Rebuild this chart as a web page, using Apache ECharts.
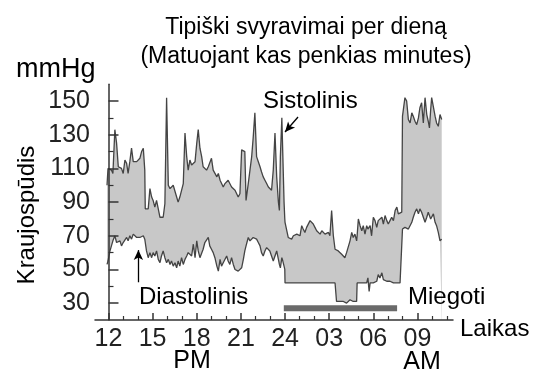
<!DOCTYPE html>
<html>
<head>
<meta charset="utf-8">
<script src="https://cdn.jsdelivr.net/npm/echarts@6/dist/echarts.min.js"></script>
<style>
  html, body { margin: 0; padding: 0; background: #fff; }
  #chart { width: 542px; height: 374px; }
</style>
</head>
<body>
<div id="chart"></div>
<script>
// time of each reading, minutes after 12:00 (noon)
const minutes = [
  -6, -2, 6, 12, 18, 26, 33, 40, 47, 53, 60, 67, 74, 80, 87, 94, 101, 108, 115, 121,
  128, 135, 142, 148, 150, 155, 162, 169, 176, 182, 189, 196, 203, 210, 216, 223, 230, 237, 244, 251,
  257, 264, 271, 278, 284, 291, 298, 305, 312, 319, 325, 332, 339, 346, 353, 360, 366, 373, 380, 386,
  393, 400, 407, 413, 420, 427, 434, 442, 448, 455, 461, 468, 475, 482, 488, 495, 502, 509, 516, 523,
  529, 536, 543, 550, 556, 561, 570, 577, 584, 590, 597, 604, 611, 618, 624, 631, 638, 645, 652, 658,
  665, 672, 679, 686, 693, 697, 701, 707, 711, 716, 719, 720,
  727, 733, 740, 747, 754, 761, 768, 774, 781, 788, 794, 801, 808, 815, 822, 829, 835, 842, 849, 856,
  863, 870, 876, 883, 890, 897, 903, 910, 917, 924, 928, 930, 937, 944, 951, 958, 964, 971, 978, 985,
  992, 998, 1005, 1012, 1014, 1019, 1026, 1033, 1039, 1046, 1053, 1058, 1063, 1067, 1073, 1080, 1087, 1094, 1100, 1107,
  1115, 1121, 1128, 1135, 1141, 1148, 1155, 1162, 1169, 1176, 1182, 1189, 1196, 1199,
  1202, 1209, 1216, 1223, 1230, 1237, 1243, 1250, 1257, 1264, 1270, 1277, 1284, 1291, 1298, 1304, 1309, 1314, 1318, 1325,
  1332, 1338, 1345, 1352, 1359
];

// mmHg
const systolic = [
  100, 110, 111, 109, 107, 133, 125, 111, 110, 110, 107, 115, 113, 107, 114, 122, 114, 115, 114, 115,
  116, 120, 122, 109, 86, 86, 86, 98, 93, 91, 87, 91, 86, 81, 81, 81, 89, 152, 100, 98,
  98, 100, 99, 93, 90, 93, 97, 101, 131, 117, 109, 115, 112, 111, 114, 125, 133, 122, 117, 111,
  110, 109, 111, 110, 116, 109, 109, 105, 107, 103, 104, 99, 101, 100, 103, 102, 99, 100, 97, 96,
  93, 95, 121, 122, 120, 91, 101, 109, 117, 128, 143, 117, 114, 111, 108, 105, 103, 101, 99, 98,
  97, 109, 131, 105, 90, 85, 117, 140, 141, 90, 80, 78,
  77, 69, 70, 68, 70, 69, 71, 72, 70, 76, 74, 72, 75, 74, 79, 80, 77, 75, 73, 72,
  71, 73, 72, 71, 70, 72, 70, 85, 70, 62, 61, 61, 61, 60, 59, 60, 57, 60, 61, 67,
  72, 69, 71, 67, 70, 80, 76, 73, 76, 71, 76, 74, 73, 76, 70, 81, 79, 75, 79, 79,
  81, 77, 82, 79, 77, 79, 81, 79, 85, 87, 83, 82, 84, 141,
  140, 152, 150, 139, 137, 143, 141, 138, 136, 140, 146, 149, 137, 152, 142, 138, 134, 145, 152, 151,
  141, 137, 135, 142, 139
];

const diastolic = [
  53, 55, 61, 64, 67, 70, 66, 65, 67, 64, 66, 67, 69, 67, 70, 68, 71, 72, 69, 70,
  69, 70, 70, 68, 66, 61, 57, 60, 57, 60, 58, 61, 56, 54, 58, 61, 57, 54, 56, 53,
  55, 52, 54, 51, 55, 52, 57, 53, 56, 58, 60, 60, 58, 65, 57, 67, 61, 57, 58, 62,
  66, 65, 69, 64, 62, 60, 57, 52, 49, 56, 52, 54, 53, 58, 55, 53, 57, 53, 50, 51,
  49, 48, 51, 56, 61, 64, 69, 67, 66, 69, 70, 68, 66, 64, 60, 58, 61, 63, 64, 61,
  58, 55, 58, 61, 56, 53, 51, 57, 55, 52, 50, 42,
  42, 42, 42, 42, 42, 42, 42, 42, 42, 42, 42, 42, 42, 42, 42, 42, 42, 42, 42, 42,
  42, 42, 42, 42, 42, 42, 42, 42, 42, 42, 42, 31, 30, 31, 32, 31, 31, 30, 31, 32,
  31, 31, 30, 31, 42, 42, 42, 42, 42, 42, 42, 45, 37, 42, 42, 42, 42, 43, 47, 45,
  48, 44, 43, 43, 42, 43, 42, 42, 42, 42, 42, 42, 42, 74,
  73, 75, 76, 74, 75, 78, 81, 84, 86, 83, 86, 84, 81, 78, 81, 84, 83, 80, 81, 83,
  78, 76, 72, 67, 68
];

const sleepSpan = [715, 1177];   // minutes after noon
const sleepLevel = 27;
const hourTicks = [0, 180, 360, 540, 720, 900, 1080, 1260];
const hourMinor = [60, 120, 240, 300, 420, 480, 600, 660, 780, 840, 960, 1020, 1140, 1200, 1320, 1380];
const mmHgTicks = [30, 50, 70, 90, 110, 130, 150];
const mmHgMinor = [40, 60, 80, 100, 120, 140];

const FONT = 'Liberation Sans, Arial, sans-serif';
const AXIS = '#333';
const LINE = '#444';

const chart = echarts.init(document.getElementById('chart'));

function hourLabel (m) {
  const h = 12 + m / 60;
  return h > 24 ? String(h - 24).padStart(2, '0') : String(h);
}

function txt (text, x, y, size, align, extra) {
  return Object.assign({
    type: 'text',
    x: x,
    y: y,
    z: 100,
    style: {
      text: text,
      font: size + 'px ' + FONT,
      fill: '#000',
      align: align || 'left',
      textAlign: align || 'left',
      verticalAlign: 'middle',
      textVerticalAlign: 'middle'
    }
  }, extra || {})
}

chart.setOption({
  animation: false,
  backgroundColor: '#fff',
  title: {
    text: 'Tipiški svyravimai per dieną\n(Matuojant kas penkias minutes)',
    left: 301,
    top: 8,
    textAlign: 'center',
    textStyle: {
      fontFamily: FONT,
      fontSize: 23,
      fontWeight: 'normal',
      color: '#000',
      lineHeight: 29
    }
  },
  grid: {
    left: 95,
    right: 89,
    top: 84.2,
    bottom: 54,
    containLabel: false,
    outerBoundsMode: 'none'
  },
  xAxis: [{
    type: 'value',
    min: -55,
    max: 1405,
    position: 'bottom',
    z: 5,
    splitLine: { show: false },
    axisLine: { lineStyle: { color: AXIS, width: 1.5 } },
    axisTick: { inside: true, length: 7, customValues: hourTicks, lineStyle: { color: AXIS, width: 1.5 } },
    axisLabel: {
      customValues: hourTicks,
      formatter: hourLabel,
      margin: 7,
      fontFamily: FONT,
      fontSize: 25,
      color: '#222'
    }
  }, {
    type: 'value',
    min: -55,
    max: 1405,
    position: 'bottom',
    z: 5,
    splitLine: { show: false },
    axisLine: { show: false },
    axisTick: { inside: true, length: 4, customValues: hourMinor, lineStyle: { color: AXIS, width: 1.2 } },
    axisLabel: { show: false }
  }],
  yAxis: [{
    type: 'value',
    min: 20,
    max: 160,
    position: 'left',
    z: 5,
    splitLine: { show: false },
    axisLine: { show: true, lineStyle: { color: AXIS, width: 1.5 } },
    axisTick: { show: true, inside: true, length: 10, customValues: mmHgTicks, lineStyle: { color: AXIS, width: 1.5 } },
    axisLabel: {
      customValues: mmHgTicks,
      margin: 5,
      fontFamily: FONT,
      fontSize: 25,
      color: '#222'
    }
  }, {
    type: 'value',
    min: 20,
    max: 160,
    position: 'left',
    z: 5,
    splitLine: { show: false },
    axisLine: { show: false },
    axisTick: { show: true, inside: true, length: 5, customValues: mmHgMinor, lineStyle: { color: AXIS, width: 1.2 } },
    axisLabel: { show: false }
  }],
  series: [
    {
      name: 'Sistolinis',
      type: 'line',
      symbol: 'none',
      z: 2,
      data: minutes.map((m, i) => [m, systolic[i]]),
      lineStyle: { color: LINE, width: 1.3 },
      areaStyle: { color: '#c8c8c8', opacity: 1, origin: 'start' }
    },
    {
      name: 'Diastolinis',
      type: 'line',
      symbol: 'none',
      z: 3,
      data: minutes.map((m, i) => [m, diastolic[i]]),
      lineStyle: { color: LINE, width: 1.3 },
      areaStyle: { color: '#fff', opacity: 1, origin: 'start' }
    },
    {
      name: 'Miegoti',
      type: 'line',
      symbol: 'none',
      z: 6,
      data: [[sleepSpan[0], sleepLevel], [sleepSpan[1], sleepLevel]],
      lineStyle: { color: '#6a6a6a', width: 6, cap: 'butt' },
      markLine: {
        silent: true,
        symbol: ['none', 'arrow'],
        symbolSize: [7, 10],
        label: { show: false },
        lineStyle: { color: '#000', width: 1.3, type: 'solid' },
        data: [
          [{ coord: [773, 140.5] }, { coord: [720, 131.6] }],
          [{ coord: [122, 42.4] }, { coord: [122, 61.5] }]
        ]
      }
    }
  ],
  graphic: [
    txt('mmHg', 16, 70, 27),
    txt('Sistolinis', 263, 101, 24),
    txt('Diastolinis', 139, 297, 24),
    txt('Miegoti', 408, 297, 24),
    txt('Laikas', 460, 329, 24),
    txt('PM', 192, 361, 25, 'center'),
    txt('AM', 422, 362, 25, 'center'),
    txt('Kraujospūdis', 27, 215, 24, 'center', { rotation: Math.PI / 2 })
  ]
});
</script>
</body>
</html>
